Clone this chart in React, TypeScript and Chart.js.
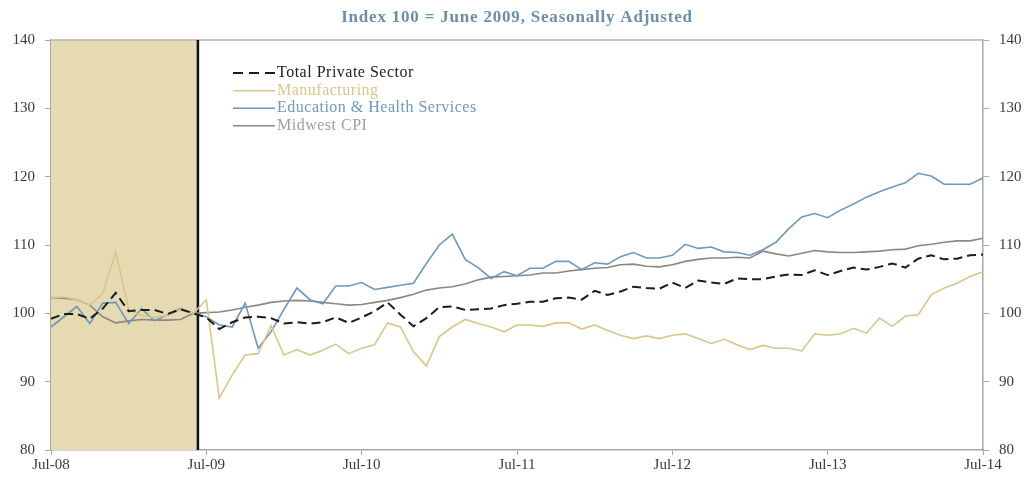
import React, { useEffect, useRef } from "react";
import { Chart, registerables } from "chart.js";

Chart.register(...registerables);

const months: string[] = [
  "Jul-08", "Aug-08", "Sep-08", "Oct-08", "Nov-08", "Dec-08", "Jan-09", "Feb-09", "Mar-09", "Apr-09", "May-09", "Jun-09",
  "Jul-09", "Aug-09", "Sep-09", "Oct-09", "Nov-09", "Dec-09", "Jan-10", "Feb-10", "Mar-10", "Apr-10", "May-10", "Jun-10",
  "Jul-10", "Aug-10", "Sep-10", "Oct-10", "Nov-10", "Dec-10", "Jan-11", "Feb-11", "Mar-11", "Apr-11", "May-11", "Jun-11",
  "Jul-11", "Aug-11", "Sep-11", "Oct-11", "Nov-11", "Dec-11", "Jan-12", "Feb-12", "Mar-12", "Apr-12", "May-12", "Jun-12",
  "Jul-12", "Aug-12", "Sep-12", "Oct-12", "Nov-12", "Dec-12", "Jan-13", "Feb-13", "Mar-13", "Apr-13", "May-13", "Jun-13",
  "Jul-13", "Aug-13", "Sep-13", "Oct-13", "Nov-13", "Dec-13", "Jan-14", "Feb-14", "Mar-14", "Apr-14", "May-14", "Jun-14",
  "Jul-14",
];

const totalPrivate: number[] = [
  99.2, 99.9, 99.9, 99.2, 100.7, 103.0, 100.3, 100.5, 100.5, 99.9, 100.6, 100.0,
  99.4, 97.7, 98.7, 99.4, 99.5, 99.3, 98.5, 98.7, 98.5, 98.7, 99.4, 98.6,
  99.4, 100.3, 101.6, 99.8, 98.1, 99.3, 100.9, 101.0, 100.5, 100.6, 100.7, 101.2,
  101.4, 101.7, 101.7, 102.2, 102.3, 102.0, 103.3, 102.7, 103.2, 103.9, 103.7, 103.6,
  104.5, 103.7, 104.8, 104.5, 104.3, 105.1, 105.0, 105.0, 105.4, 105.7, 105.6, 106.3,
  105.6, 106.2, 106.7, 106.4, 106.8, 107.3, 106.7, 108.0, 108.5, 107.9, 108.0, 108.5,
  108.6,
];

const manufacturing: number[] = [
  102.3, 102.4, 102.0, 101.2, 102.9, 109.0, 100.6, 99.7, 99.4, 99.7, 100.5, 100.0,
  102.0, 87.6, 91.0, 93.9, 94.1, 98.2, 93.9, 94.7, 93.9, 94.6, 95.5, 94.1,
  94.9, 95.4, 98.6, 98.0, 94.4, 92.3, 96.6, 98.0, 99.1, 98.5, 98.0, 97.3,
  98.3, 98.3, 98.1, 98.6, 98.6, 97.7, 98.3, 97.5, 96.8, 96.3, 96.7, 96.3,
  96.8, 97.0, 96.3, 95.6, 96.2, 95.4, 94.7, 95.3, 94.9, 94.9, 94.5, 97.0,
  96.8, 97.0, 97.8, 97.1, 99.3, 98.1, 99.6, 99.8, 102.7, 103.7, 104.4, 105.4,
  106.1,
];

const eduHealth: number[] = [
  98.0, 99.5, 101.0, 98.5, 101.5, 101.6, 98.5, 100.7, 98.9, 99.8, 100.7, 100.0,
  99.5, 98.3, 98.0, 101.5, 94.9, 97.3, 100.6, 103.7, 102.0, 101.4, 104.0, 104.0,
  104.5, 103.5, 103.8, 104.1, 104.4, 107.3, 110.0, 111.6, 107.9, 106.7, 105.1, 106.1,
  105.5, 106.6, 106.6, 107.6, 107.6, 106.4, 107.4, 107.2, 108.3, 108.9, 108.1, 108.1,
  108.5, 110.1, 109.5, 109.7, 109.0, 108.9, 108.5, 109.3, 110.4, 112.4, 114.1, 114.6,
  114.0, 115.1, 116.0, 117.0, 117.8, 118.5, 119.1, 120.5, 120.1, 118.9, 118.9, 118.9,
  119.8,
];

const midwestCPI: number[] = [
  102.3, 102.2, 102.0, 101.2, 99.5, 98.6, 98.9, 99.1, 99.0, 99.0, 99.1, 100.0,
  100.1, 100.2, 100.5, 100.9, 101.2, 101.6, 101.8, 101.9, 101.8, 101.6, 101.4, 101.2,
  101.3, 101.6, 101.9, 102.3, 102.8, 103.4, 103.7, 103.9, 104.3, 104.9, 105.3, 105.4,
  105.5, 105.6, 105.9, 105.9, 106.2, 106.4, 106.6, 106.7, 107.1, 107.2, 106.9, 106.8,
  107.1, 107.6, 107.9, 108.1, 108.1, 108.2, 108.1, 109.1, 108.7, 108.4, 108.8, 109.2,
  109.0, 108.9, 108.9, 109.0, 109.1, 109.3, 109.4, 109.9, 110.1, 110.4, 110.6, 110.6,
  111.0,
];

const recessionStartIndex = 0;
const recessionEndIndex = 11.35;

const subtitleText = "Index 100 = June 2009, Seasonally Adjusted";

const seriesNames = ["Total Private Sector", "Manufacturing", "Education & Health Services", "Midwest CPI"];
const seriesColors = ["#1c1c1c", "#d8c68a", "#6f98bb", "#8e8681"];
const legendTextColors = ["#222222", "#d8c68a", "#6f98bb", "#a39d98"];

const FONT = "'Liberation Serif', 'DejaVu Serif', serif";

const decorPlugin = {
  id: "decor",
  beforeDatasetsDraw(chart: any) {
    const { ctx, chartArea: a, scales } = chart;
    const x = scales.x;
    const x0 = x.getPixelForValue(recessionStartIndex);
    const x1 = x.getPixelForValue(recessionEndIndex);
    ctx.save();
    ctx.fillStyle = "#e6dab3";
    ctx.fillRect(x0, a.top, x1 - x0, a.bottom - a.top);
    ctx.strokeStyle = "#b4b4b4";
    ctx.lineWidth = 1.5;
    ctx.beginPath();
    ctx.moveTo(a.left, a.top);
    ctx.lineTo(a.right, a.top);
    ctx.stroke();
    ctx.strokeStyle = "#111111";
    ctx.lineWidth = 2.5;
    ctx.beginPath();
    ctx.moveTo(x1, a.top);
    ctx.lineTo(x1, a.bottom);
    ctx.stroke();
    ctx.restore();
  },
  afterDatasetsDraw(chart: any) {
    const { ctx } = chart;
    ctx.save();
    const lx0 = 233;
    const lx1 = 275;
    const rows = [73, 90.7, 108.2, 125.7];
    ctx.font = `16px ${FONT}`;
    (ctx as any).letterSpacing = "0.5px";
    ctx.textBaseline = "middle";
    ctx.textAlign = "left";
    seriesNames.forEach((name, i) => {
      ctx.strokeStyle = seriesColors[i];
      ctx.lineWidth = i === 0 ? 2 : 1.5;
      ctx.setLineDash(i === 0 ? [10, 6] : []);
      ctx.beginPath();
      ctx.moveTo(lx0, rows[i]);
      ctx.lineTo(lx1, rows[i]);
      ctx.stroke();
      ctx.setLineDash([]);
      ctx.fillStyle = legendTextColors[i];
      ctx.fillText(name, lx1 + 2, rows[i]);
    });
    ctx.restore();
  },
  afterDraw(chart: any) {
    const { ctx } = chart;
    ctx.save();
    ctx.font = `bold 17px ${FONT}`;
    (ctx as any).letterSpacing = "0.8px";
    ctx.fillStyle = "#6a8fab";
    ctx.textAlign = "center";
    ctx.textBaseline = "middle";
    ctx.fillText(subtitleText, 517, 18);
    ctx.restore();
  },
};

export default function App() {
  const canvasRef = useRef<HTMLCanvasElement | null>(null);

  useEffect(() => {
    if (!canvasRef.current) return;
    const tickFont = { family: FONT, size: 15 };
    const tickColor = "#3a3a3a";
    const axisColor = "#a8a8a8";
    const yScaleBase = {
      min: 80,
      max: 140,
      ticks: { stepSize: 10, color: tickColor, font: tickFont },
      grid: { drawOnChartArea: false, drawTicks: true, tickLength: 6, color: axisColor },
      border: { display: true, color: axisColor, width: 1.5 },
    };
    const chart = new Chart(canvasRef.current, {
      type: "line",
      data: {
        labels: months,
        datasets: [
          {
            label: seriesNames[0],
            data: totalPrivate,
            borderColor: seriesColors[0],
            borderWidth: 2,
            borderDash: [9, 5],
            pointRadius: 0,
            tension: 0,
          },
          {
            label: seriesNames[1],
            data: manufacturing,
            borderColor: seriesColors[1],
            borderWidth: 1.6,
            pointRadius: 0,
            tension: 0,
          },
          {
            label: seriesNames[2],
            data: eduHealth,
            borderColor: seriesColors[2],
            borderWidth: 1.6,
            pointRadius: 0,
            tension: 0,
          },
          {
            label: seriesNames[3],
            data: midwestCPI,
            borderColor: seriesColors[3],
            borderWidth: 1.6,
            pointRadius: 0,
            tension: 0,
          },
        ],
      },
      options: {
        animation: false,
        responsive: false,
        maintainAspectRatio: false,
        layout: { padding: { top: 40, left: 0, right: 0, bottom: 0 } },
        plugins: { legend: { display: false }, tooltip: { enabled: false }, title: { display: false } },
        scales: {
          x: {
            type: "category",
            offset: false,
            ticks: {
              autoSkip: false,
              maxRotation: 0,
              color: tickColor,
              font: tickFont,
              padding: 1,
              callback: (_v: any, i: number) => (i % 12 === 0 ? months[i] : null),
            },
            grid: { drawOnChartArea: false, drawTicks: true, tickLength: 5, color: axisColor },
            border: { display: true, color: axisColor, width: 1.5 },
            afterFit: (s: any) => {
              s.height = 27;
            },
          },
          y: {
            ...yScaleBase,
            position: "left",
            ticks: { ...yScaleBase.ticks, padding: 10 },
            afterFit: (s: any) => {
              s.width = 51;
            },
          },
          y2: {
            ...yScaleBase,
            position: "right",
            ticks: { ...yScaleBase.ticks, padding: 10 },
            afterFit: (s: any) => {
              s.width = 43;
            },
          },
        },
      } as any,
      plugins: [decorPlugin],
    });
    return () => chart.destroy();
  }, []);

  return (
    <div style={{ position: "fixed", left: 0, top: 0, width: 1026, height: 477, background: "#ffffff" }}>
      <canvas ref={canvasRef} width={1026} height={477} style={{ display: "block" }} />
    </div>
  );
}
